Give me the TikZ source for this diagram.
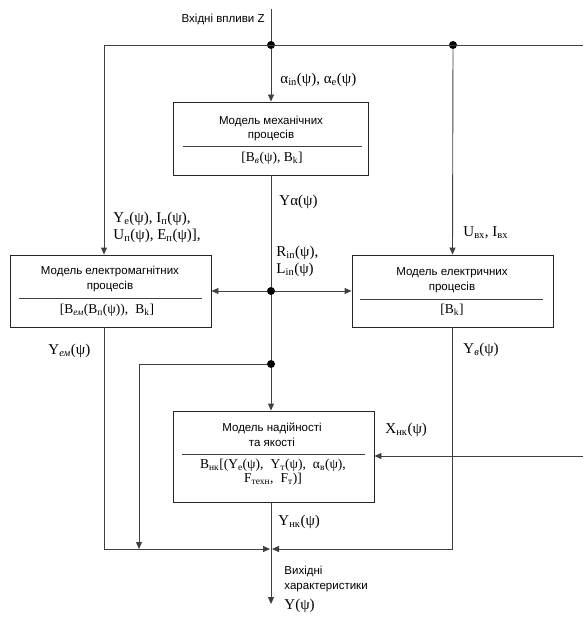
\documentclass[tikz,border=0pt]{standalone}
\usepackage{fontspec}
\setmainfont{Liberation Serif}
\setsansfont{Liberation Sans}
\usetikzlibrary{arrows.meta}

\begin{document}
\begin{tikzpicture}[x=1pt,y=-1pt,line width=0.9pt,draw=black!75,
	block/.style={draw=black!85,rectangle,minimum width=201pt,minimum height=72pt,inner sep=0pt},
	title/.style={font=\sffamily\fontsize{11.5}{14.5}\selectfont,align=center,inner sep=0pt},
	formula/.style={font=\fontsize{13.5}{14}\selectfont,align=center,inner sep=0pt},
	lbl/.style={font=\fontsize{15}{17}\selectfont,align=left,anchor=west,inner sep=0pt},
	note/.style={font=\sffamily\fontsize{11.5}{14.5}\selectfont,align=left,inner sep=0pt},
	dot/.style={circle,fill=black,inner sep=0pt,minimum size=8pt},
	>={Triangle[length=7pt,width=6pt]}]
	\useasboundingbox (0,0) rectangle (583,617);
	% blocks
	\node[block,minimum width=195pt,minimum height=73pt] (mech) at (271,138.5) {};
	\node[title] (mechT) at (271,128.5) {Модель механічних\\процесів};
	\node[formula] (mechF) at (272,158) {[B\textsubscript{\textit{в}}(ψ), B\textsubscript{k}]};
	\draw (183,146) -- (362,146);
	\node[block] (emag) at (110.5,291) {};
	\node[title] (emagT) at (110,279) {Модель електромагнітних\\процесів};
	\node[formula] (emagF) at (107,310) {[B\textsubscript{\textit{ем}}(B\textsubscript{п}(ψ)),\; B\textsubscript{k}]};
	\draw (19,298.5) -- (202,298.5);
	\node[block] (elec) at (452.5,291) {};
	\node[title] (elecT) at (452,280) {Модель електричних\\процесів};
	\node[formula] (elecF) at (452,310) {[B\textsubscript{k}]};
	\draw (360,299) -- (543,299);
	\node[block,minimum height=91pt] (rel) at (273.5,456.5) {};
	\node[title] (relT) at (272,435) {Модель надійності\\та якості};
	\node[formula] (relF) at (273,472) {B\textsubscript{нк}[(Y\textsubscript{e}(ψ),\; Y\textsubscript{т}(ψ),\; α\textsubscript{в}(ψ),\\F\textsubscript{техн},\; F\textsubscript{т})]};
	\draw (182,454) -- (365,454);
	% junctions
	\node[dot] (j1) at (271,45) {};
	\node[dot] (j2) at (453,45) {};
	\node[dot] (j3) at (271,291) {};
	\node[dot] (j4) at (271,364) {};
	\coordinate (zin) at (271,9);
	\coordinate (tl) at (104,45);
	\coordinate (tr) at (583,45);
	\coordinate (xin) at (583,456);
	\coordinate (fb) at (139,549);
	\coordinate (jo) at (271,549);
	\coordinate (yout) at (271,604);
	% connectors
	\draw (zin) -- (j1);
	\draw[->] (j1) -- (mech.north);
	\draw (tl) -- (tr);
	\draw[->] (tl) -- (emag.north -| tl);
	\draw[->] (j2) -- (elec.north);
	\draw (mech.south) -- (j3);
	\draw[->] (j3) -- (emag.east);
	\draw[->] (j3) -- (elec.west);
	\draw (j3) -- (j4);
	\draw[->] (j4) -- (rel.north -| j4);
	\draw[->] (j4) -| (fb);
	\draw[->,shorten >=1pt] (emag.south -| tl) |- (jo);
	\draw[->,shorten >=1pt] (elec.south) |- (jo);
	\draw[->] (rel.south -| j4) -- (yout);
	\draw[->] (xin) -- (rel.east |- xin);
	% labels
	\node[note,anchor=east] (lz) at (265,19) {Вхідні впливи Z};
	\node[lbl] (la) at (280,80) {α\textsubscript{in}(ψ), α\textsubscript{e}(ψ)};
	\node[lbl] (lya) at (279,202) {Yα(ψ)};
	\node[lbl] (lye) at (113,227) {Y\textsubscript{e}(ψ), I\textsubscript{п}(ψ),\\U\textsubscript{п}(ψ), E\textsubscript{п}(ψ)],};
	\node[lbl] (lrl) at (276,261) {R\textsubscript{in}(ψ),\\L\textsubscript{in}(ψ)};
	\node[lbl] (lu) at (463,233) {U\textsubscript{вх}, I\textsubscript{вх}};
	\node[lbl] (lyem) at (48,351) {Y\textsubscript{\textit{ем}}(ψ)};
	\node[lbl] (lyv) at (463,350) {Y\textsubscript{\textit{в}}(ψ)};
	\node[lbl] (lx) at (385,430) {X\textsubscript{нк}(ψ)};
	\node[lbl] (lynk) at (278,522) {Y\textsubscript{нк}(ψ)};
	\node[note,anchor=west] (lout) at (284,579) {Вихідні\\характеристики};
	\node[lbl] (ly) at (284,606) {Y(ψ)};
\end{tikzpicture}
\end{document}
